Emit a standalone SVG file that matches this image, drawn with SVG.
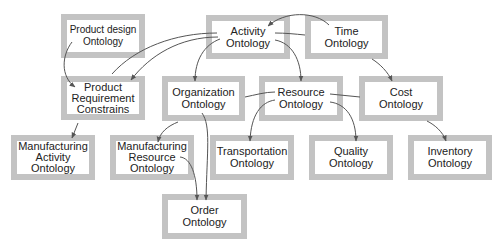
<svg xmlns="http://www.w3.org/2000/svg" width="500" height="250" viewBox="0 0 500 250">
<style>
.box{fill:#fff;stroke:#c3c3c3;stroke-width:6}
.t{font-family:"Liberation Sans",Arial,sans-serif;font-size:11px;fill:#222;text-anchor:middle}
.s{font-size:10px}
.c{fill:none;stroke:#555;stroke-width:1}
.a{marker-end:url(#ah)}
</style>
<defs>
<marker id="ah" viewBox="0 0 10 10" refX="9" refY="5" markerWidth="6" markerHeight="6" markerUnits="userSpaceOnUse" orient="auto">
<path d="M0,1 L10,5 L0,9 Z" fill="#555"/>
</marker>
</defs>
<rect width="500" height="250" fill="#fff"/>
<g id="product-design"><rect class="box" x="64" y="17" width="78" height="38"/><text class="t s" x="103" y="33">Product design</text><text class="t s" x="103" y="45">Ontology</text></g>
<g id="activity"><rect class="box" x="209" y="18" width="78" height="38"/><text class="t" x="248" y="34.5">Activity</text><text class="t" x="248" y="46.5">Ontology</text></g>
<g id="time"><rect class="box" x="308" y="18" width="77" height="38"/><text class="t" x="346.5" y="34.5">Time</text><text class="t" x="346.5" y="46.5">Ontology</text></g>
<g id="product-requirement"><rect class="box" x="64" y="79" width="78" height="38"/><text class="t" x="103" y="90.5">Product</text><text class="t" x="103" y="101.5">Requirement</text><text class="t" x="103" y="112.5">Constrains</text></g>
<g id="organization"><rect class="box" x="165" y="79" width="77" height="39"/><text class="t" x="203.5" y="96">Organization</text><text class="t" x="203.5" y="108">Ontology</text></g>
<g id="resource"><rect class="box" x="262" y="79" width="78" height="39"/><text class="t" x="301" y="96">Resource</text><text class="t" x="301" y="108">Ontology</text></g>
<g id="cost"><rect class="box" x="362" y="79" width="78" height="39"/><text class="t" x="401" y="96">Cost</text><text class="t" x="401" y="108">Ontology</text></g>
<g id="manufacturing-activity"><rect class="box" x="14" y="138" width="78" height="39"/><text class="t" x="53" y="150">Manufacturing</text><text class="t" x="53" y="161">Activity</text><text class="t" x="53" y="172">Ontology</text></g>
<g id="manufacturing-resource"><rect class="box" x="113" y="138" width="78" height="39"/><text class="t" x="152" y="150">Manufacturing</text><text class="t" x="152" y="161">Resource</text><text class="t" x="152" y="172">Ontology</text></g>
<g id="transportation"><rect class="box" x="213" y="138" width="78" height="39"/><text class="t" x="252" y="155">Transportation</text><text class="t" x="252" y="167">Ontology</text></g>
<g id="quality"><rect class="box" x="312" y="138" width="78" height="39"/><text class="t" x="351" y="155">Quality</text><text class="t" x="351" y="167">Ontology</text></g>
<g id="inventory"><rect class="box" x="411" y="138" width="78" height="39"/><text class="t" x="450" y="155">Inventory</text><text class="t" x="450" y="167">Ontology</text></g>
<g id="order"><rect class="box" x="165" y="197" width="79" height="39"/><text class="t" x="204.5" y="214">Order</text><text class="t" x="204.5" y="226">Ontology</text></g>
<g id="connectors">
<path class="c a" d="M329,25 C315,11 285,11 268,26"/>
<path class="c" d="M275,33 C285,33 295,34 305,35"/>
<path class="c a" d="M275,40 C292,43 301,60 301,81"/>
<path class="c a" d="M220,39 C204,45 195,60 195,81"/>
<path class="c" d="M217,33 C175,33 135,48 112,74"/>
<path class="c a" d="M218,37 C180,37 150,55 131,80"/>
<path class="c a" d="M372,59 C380,64 388,72 392,81"/>
<path class="c a" d="M72,42 C62,55 60,76 75,87"/>
<path class="c a" d="M78,123 L72,138"/>
<path class="c a" d="M178,122 C168,126 160,132 158,142"/>
<path class="c a" d="M202,113 C211,126 207,150 206,200"/>
<path class="c a" d="M180,157 C191,158 197,175 197,200"/>
<path class="c" d="M245,97 C255,95 265,92 275,92"/>
<path class="c a" d="M275,100 C261,102 251,115 250,141"/>
<path class="c a" d="M330,102 C346,104 356,118 356,141"/>
<path class="c" d="M330,94 C340,95 350,96 360,97"/>
<path class="c a" d="M427,121 C435,125 443,132 446,141"/>
</g>
</svg>
